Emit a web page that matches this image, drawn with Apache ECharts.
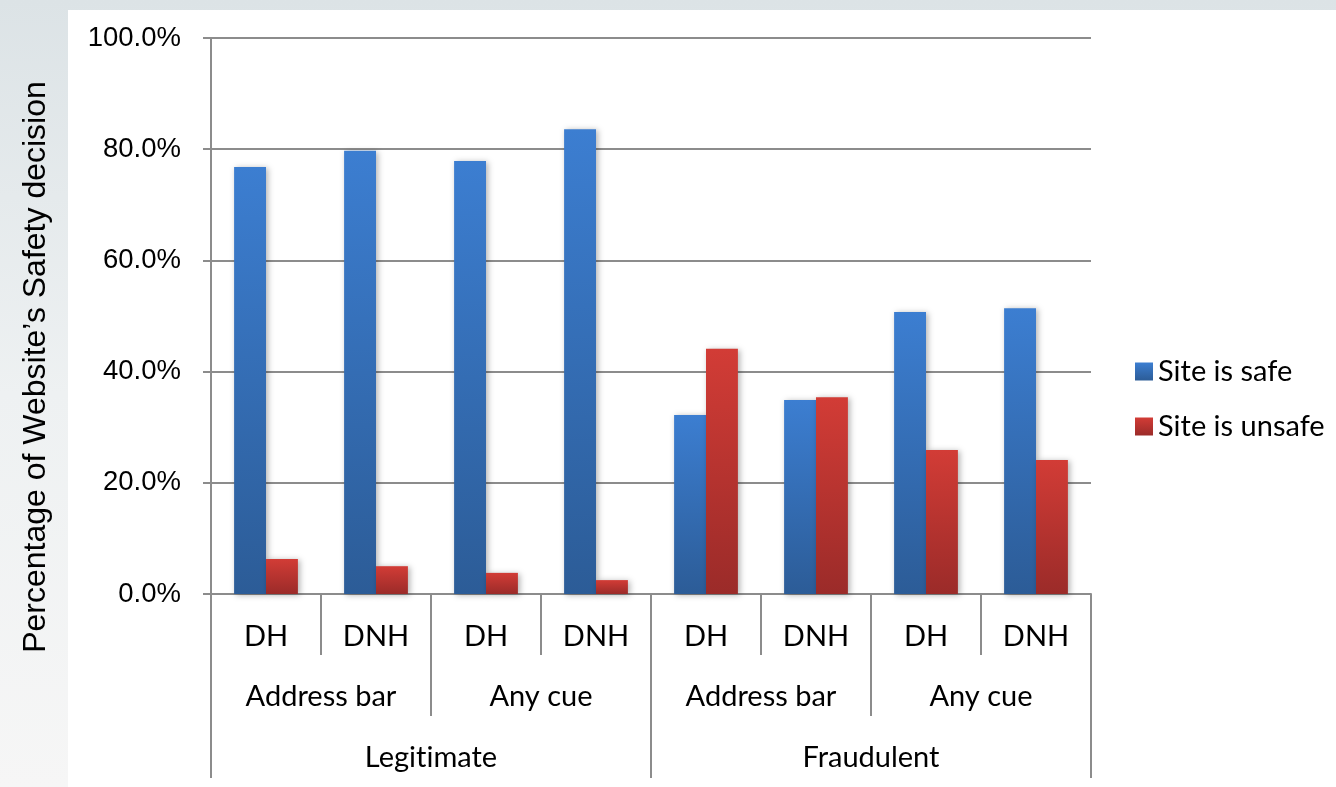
<!DOCTYPE html>
<html>
<head>
<meta charset="utf-8">
<script src="https://cdn.jsdelivr.net/npm/echarts@6/dist/echarts.min.js"></script>
<style>
html,body{margin:0;padding:0;width:1336px;height:787px;overflow:hidden;}
body{background:linear-gradient(180deg,#dce3e6 0%,#eef1f2 50%,#f6f6f6 100%);position:relative;}
#paper{position:absolute;left:68px;top:10px;right:0;bottom:0;background:#ffffff;}
#main{position:absolute;left:0;top:0;width:1336px;height:787px;}
</style>
</head>
<body>
<div id="paper"></div>
<div id="main"></div>
<script>
const level1 = ['DH','DNH','DH','DNH','DH','DNH','DH','DNH'];
const level2 = ['Address bar','Any cue','Address bar','Any cue'];
const level3 = ['Legitimate','Fraudulent'];
const seriesNames = ['Site is safe','Site is unsafe'];
const safeValues = [0.768, 0.797, 0.779, 0.836, 0.322, 0.349, 0.507, 0.514];
const unsafeValues = [0.063, 0.050, 0.038, 0.025, 0.441, 0.354, 0.259, 0.241];
const yTicks = [0, 0.2, 0.4, 0.6, 0.8, 1.0];
const yTitle = 'Percentage of Website\u2019s Safety decision';

const chart = echarts.init(document.getElementById('main'), null, {renderer:'canvas'});
const axisGray = '#8c8c8c';
const catFont = 'Lato, "Open Sans", sans-serif';
const numFont = '"Liberation Sans", Arial, sans-serif';

function grad(top, bottom){
  return new echarts.graphic.LinearGradient(0,0,0,1,[{offset:0,color:top},{offset:1,color:bottom}]);
}
// avoid the "ti" ligature of Lato in display only
const noLig = s => String(s).replace(/ti/g, 't\u200Ci');

function catAxis(data, tickLen, margin, showLine){
  return {
    type:'category', data:data, position:'bottom', gridIndex:0,
    boundaryGap:true,
    axisLine:{show:showLine, lineStyle:{color:axisGray, width:2}},
    axisTick:{show:true, length:tickLen, interval:0, alignWithLabel:false, lineStyle:{color:axisGray, width:2}},
    axisLabel:{interval:0, margin:margin, color:'#000', fontFamily:catFont, fontSize:29, formatter:noLig},
    splitLine:{show:false}
  };
}

chart.setOption({
  animation:false,
  backgroundColor:'transparent',
  grid:{left:211, right:245, top:38, bottom:193, containLabel:false},
  legend:{
    orient:'vertical', left:1130, top:352,
    itemWidth:18, itemHeight:18, itemGap:26,
    icon:'rect',
    textStyle:{fontFamily:catFont, fontSize:29, color:'#000', padding:[0,0,0,0]},
    data:seriesNames
  },
  xAxis:[
    catAxis(level1, 61, 28, true),
    catAxis(level2, 122, 88, false),
    catAxis(level3, 184, 149, false)
  ],
  yAxis:{
    type:'value', min:0, max:1, interval:0.2,
    axisLine:{show:true, lineStyle:{color:axisGray, width:2}},
    axisTick:{show:true, length:8, inside:false, lineStyle:{color:axisGray, width:2}},
    axisLabel:{margin:30, color:'#000', fontFamily:numFont, fontSize:27.5,
      formatter:v=>(v*100).toFixed(1)+'%'},
    splitLine:{show:true, lineStyle:{color:axisGray, width:2}}
  },
  graphic:[{
    type:'text', x:36, y:367, rotation:Math.PI/2,
    style:{text:yTitle, fill:'#000',
      font:'32px "Liberation Sans", Arial, sans-serif', align:'center', verticalAlign:'middle'}
  }],
  series:[
    {name:seriesNames[0], type:'bar', xAxisIndex:0, data:safeValues,
     barGap:'0%', barCategoryGap:'42%',
     itemStyle:{color:grad('#3c7ed1','#2c5c97'), shadowColor:'rgba(0,0,0,0.3)', shadowBlur:6, shadowOffsetX:2, shadowOffsetY:1}},
    {name:seriesNames[1], type:'bar', xAxisIndex:0, data:unsafeValues,
     barGap:'0%', barCategoryGap:'42%',
     itemStyle:{color:grad('#d23c36','#9b2b29'), shadowColor:'rgba(0,0,0,0.3)', shadowBlur:6, shadowOffsetX:2, shadowOffsetY:1}}
  ]
});
</script>
</body>
</html>
